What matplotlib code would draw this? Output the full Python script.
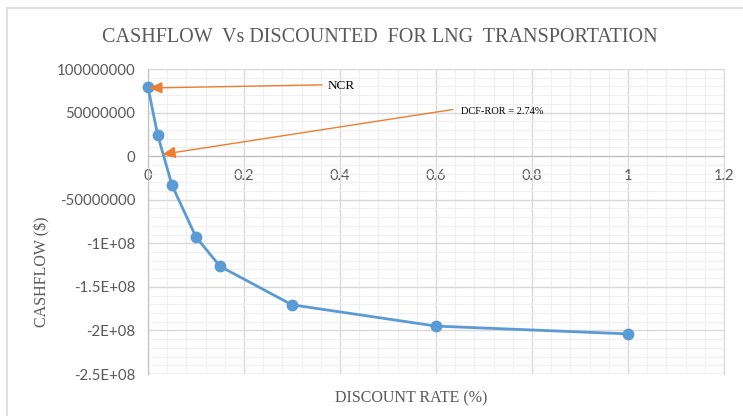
import matplotlib
matplotlib.use("Agg")
import matplotlib.pyplot as plt
from matplotlib.ticker import FixedLocator, MultipleLocator, FixedFormatter
from matplotlib.patches import Rectangle
from matplotlib import font_manager

# Data
discount_rate = [0.0, 0.02, 0.05, 0.10, 0.15, 0.30, 0.60, 1.00]
cashflow = [79.2e6, 24.6e6, -33.4e6, -92.9e6, -126.4e6, -170.6e6, -195.0e6, -204.0e6]
x_ticks = [0, 0.2, 0.4, 0.6, 0.8, 1.0, 1.2]
x_tick_labels = ["0", "0.2", "0.4", "0.6", "0.8", "1", "1.2"]
y_ticks = [1e8, 5e7, 0, -5e7, -1e8, -1.5e8, -2e8, -2.5e8]
y_tick_labels = ["100000000", "50000000", "0", "-50000000", "-1E+08", "-1.5E+08", "-2E+08", "-2.5E+08"]
irr = 0.0274

title = "CASHFLOW  Vs DISCOUNTED  FOR LNG  TRANSPORTATION"
names = {f.name for f in font_manager.fontManager.ttflist}
serif_name = "Liberation Serif" if "Liberation Serif" in names else "DejaVu Serif"
serif = font_manager.FontProperties(family=serif_name)
sans_name = "Lato" if "Lato" in names else "DejaVu Sans"
gray_text = "#595959"

fig = plt.figure(figsize=(7.43, 4.16), dpi=100)
fig.patches.append(Rectangle((7 / 743, -0.01), 1.0, 1 - 8 / 416 + 0.01, transform=fig.transFigure,
                             fill=False, edgecolor="#D9D9D9", linewidth=1.2))
ax = fig.add_axes([148 / 743, 1 - 374 / 416, (724 - 148) / 743, (374 - 69) / 416])

ax.set_xlim(0, 1.2)
ax.set_ylim(-2.5e8, 1e8)
ax.xaxis.set_major_locator(FixedLocator(x_ticks))
ax.xaxis.set_major_formatter(FixedFormatter(x_tick_labels))
ax.yaxis.set_major_locator(FixedLocator(y_ticks))
ax.yaxis.set_major_formatter(FixedFormatter(y_tick_labels))
ax.xaxis.set_minor_locator(MultipleLocator(0.04))
ax.yaxis.set_minor_locator(MultipleLocator(1e7))
ax.grid(which="major", color="#D9D9D9", linewidth=1.0, zorder=0)
ax.grid(which="minor", color="#F0F0F0", linewidth=0.9, zorder=0)
ax.set_axisbelow(True)

for s in ["top", "right"]:
    ax.spines[s].set_color("#D9D9D9")
ax.spines["left"].set_color("#BFBFBF")
ax.spines["bottom"].set_position(("data", 0))
ax.spines["bottom"].set_color("#BFBFBF")
ax.tick_params(which="both", length=0)
ax.tick_params(axis="x", pad=9, labelsize=10.5, labelcolor=gray_text)
ax.tick_params(axis="y", pad=9, labelsize=10.8, labelcolor=gray_text)
for lab in ax.get_xticklabels() + ax.get_yticklabels():
    lab.set_family(sans_name)
ax.axhline(-2.5e8, color="#D9D9D9", linewidth=1.0, zorder=1)

ax.plot(discount_rate, cashflow, color="#5B9BD5", linewidth=2.0, marker="o",
        markersize=7.5, zorder=3, clip_on=False)

arrow_kw = dict(arrowstyle="-|>,head_length=0.8,head_width=0.35", color="#ED7D31",
                linewidth=1.0, shrinkA=0, shrinkB=0)
ax.annotate("", xy=(0.002, cashflow[0] - 1e6), xytext=(0.3625, 81.8e6), arrowprops=arrow_kw, zorder=4)
ax.text(0.375, 81e6, "NCR", fontproperties=serif, fontsize=9.5, color="black", va="center", ha="left")
ax.annotate("", xy=(irr + 0.002, 2e6), xytext=(0.635, 53.5e6), arrowprops=arrow_kw, zorder=4)
ax.text(0.653, 51e6, "DCF-ROR = 2.74%", fontproperties=serif, fontsize=7.5, color="black",
        va="center", ha="left")

fig.text(380 / 743, 1 - 37 / 416, title, fontproperties=serif, fontsize=14.5, color=gray_text,
         ha="center", va="center")
fig.text(411 / 743, 1 - 398 / 416, "DISCOUNT RATE (%)", fontproperties=serif, fontsize=11.5,
         color=gray_text, ha="center", va="center")
fig.text(42 / 743, 1 - 272 / 416, "CASHFLOW ($)", fontproperties=serif, fontsize=11.5,
         color=gray_text, ha="center", va="center", rotation=90)

fig.savefig("out.png", dpi=100)
